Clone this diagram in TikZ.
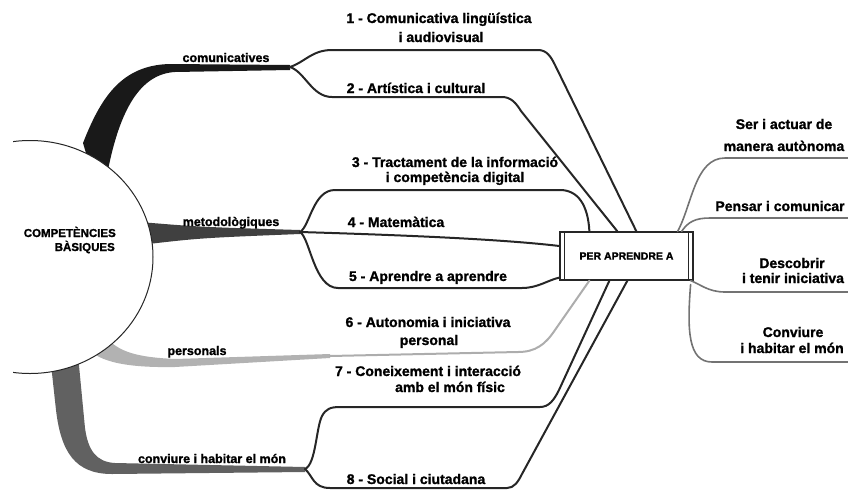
\documentclass[tikz,border=0pt]{standalone}
\usepackage{fontspec}
\setmainfont{Liberation Sans}[BoldFeatures={FakeBold=1.3}]
\usetikzlibrary{shapes.geometric}
\begin{document}
\begin{tikzpicture}[x=1pt,y=-1pt,
  num/.style={font=\fontsize{14}{16}\selectfont\bfseries, anchor=base, inner sep=0pt},
  lbl/.style={font=\fontsize{12.5}{14}\selectfont\bfseries, anchor=base, inner sep=0pt},
  corelbl/.style={font=\fontsize{11.5}{13}\selectfont\bfseries, anchor=base east, inner sep=0pt},
  conn/.style={draw=black!85, line width=2pt, line cap=round, line join=round},
  lightconn/.style={conn, draw=black!32},
  rconn/.style={draw=black!55, line width=1.6pt, line cap=round},
]
\useasboundingbox (0,0) rectangle (848,493);

% ---- tapered branches
\fill[black!90] (88,160) -- (83,143) .. controls (100,100) and (120,65) .. (170,64) -- (290,65) -- (290,70) -- (175,72) .. controls (140,74) and (120,110) .. (108,170) -- cycle;
\fill[black!75] (140,222) .. controls (200,227) .. (300,230) -- (300,234) .. controls (200,238) .. (140,245) -- cycle;
\fill[black!30] (100,330) .. controls (115,352) and (135,357) .. (175,359) -- (330,354) -- (330,358) -- (175,367) .. controls (120,368) and (95,360) .. (85,345) -- cycle;
\fill[black!62] (50,355) -- (56,410) .. controls (61,452) and (75,474) .. (112,474) -- (305,472) -- (305,467) -- (115,463) .. controls (96,462) and (88,450) .. (85,428) -- (78,355) -- cycle;

% ---- central ellipse
\begin{scope}
  \clip (13,0) rectangle (848,493);
  \node[ellipse, draw=black!85, fill=white, line width=1pt, minimum width=246pt, minimum height=233pt, inner sep=0pt] (core) at (30,257) {};
\end{scope}
\node[corelbl] (ct1) at (116,237) {COMPETÈNCIES};
\node[corelbl] (ct2) at (115,251) {BÀSIQUES};

% ---- branch labels
\node[lbl] (lcom) at (226,62) {comunicatives};
\node[lbl] (lmet) at (231,226) {metodològiques};
\node[lbl] (lper) at (197,355) {personals};
\node[lbl] (lconv) at (212,463) {conviure i habitar el món};

% ---- junctions
\coordinate (j1) at (290,67);
\coordinate (j2) at (300,232);
\coordinate (j3) at (330,356);
\coordinate (j4) at (305,469);

% ---- central box
\node[draw=black!85, line width=1.2pt, fill=white, minimum width=133pt, minimum height=48pt, inner sep=0pt,
      font=\fontsize{10.5}{12}\selectfont\bfseries] (box) at (626.5,256) {PER APRENDRE A};
\draw[black!85, line width=0.9pt] ([xshift=5pt]box.north west) -- ([xshift=5pt]box.south west);
\draw[black!85, line width=0.9pt] ([xshift=-5pt]box.north east) -- ([xshift=-5pt]box.south east);

\coordinate (bt1) at ([xshift=77pt]box.north west);
\coordinate (bt2) at ([xshift=58pt]box.north west);
\coordinate (bt3) at ([xshift=30pt]box.north west);
\coordinate (bl4) at ([yshift=10pt]box.west);
\coordinate (bl5) at ([yshift=3pt]box.south west);
\coordinate (bb6) at ([xshift=30pt]box.south west);
\coordinate (bb7) at ([xshift=50pt]box.south west);
\coordinate (bb8) at ([xshift=68pt]box.south west);
\coordinate (rt1) at ([xshift=-16pt]box.north east);
\coordinate (rt2) at ([xshift=-12pt]box.north east);
\coordinate (rb3) at ([xshift=-3pt]box.south east);
\coordinate (rb4) at ([xshift=-3pt,yshift=-4pt]box.south east);
\coordinate (re1) at (848,158);
\coordinate (re2) at (848,218);
\coordinate (re3) at (848,292);
\coordinate (re4) at (848,362);

% ---- connectors to the box
\draw[conn] (j1) .. controls (305,62) and (312,50) .. (332,50) -- (538,50) .. controls (547,50) and (551,57) .. (555,65) -- (bt1);
\draw[conn] (j1) .. controls (305,72) and (312,97) .. (332,97) -- (502,97) .. controls (511,97) and (516,103) .. (521,111) -- (bt2);
\draw[conn] (j2) .. controls (310,226) and (313,190) .. (335,190) -- (560,190) .. controls (578,190) and (588,205) .. (bt3);
\draw[conn] (j2) .. controls (400,235) and (500,239) .. (bl4);
\draw[conn] (j2) .. controls (310,238) and (314,288) .. (338,288) -- (522,288) .. controls (538,288) and (548,280) .. (bl5);
\draw[lightconn] (j3) -- (518,352) .. controls (535,352) and (545,345) .. (555,330) -- (bb6);
\draw[conn] (j4) .. controls (316,464) and (316,428) .. (322,416) .. controls (326,409) and (330,407) .. (340,407) -- (540,407) .. controls (549,407) and (554,400) .. (559,390) -- (bb7);
\draw[conn] (j4) .. controls (313,476) and (313,488) .. (330,488) -- (507,488) .. controls (514,488) and (518,482) .. (522,474) -- (bb8);

% ---- connectors from the box
\draw[rconn] (rt1) .. controls (692,205) and (695,158) .. (725,158) -- (re1);
\draw[rconn] (rt2) .. controls (688,222) and (695,218) .. (710,218) -- (re2);
\draw[rconn] (rb3) .. controls (700,284) and (708,292) .. (725,292) -- (re3);
\draw[rconn] (rb4) .. controls (687,330) and (688,362) .. (712,362) -- (re4);

% ---- numbered competences
\node[num] (n1a) at (439,23) {1 - Comunicativa lingüística};
\node[num] (n1b) at (441,42) {i audiovisual};
\node[num] (n2) at (416,93) {2 - Artística i cultural};
\node[num] (n3a) at (455,167) {3 - Tractament de la informació};
\node[num] (n3b) at (455,182) {i competència digital};
\node[num] (n4) at (396,227) {4 - Matemàtica};
\node[num] (n5) at (428,281) {5 - Aprendre a aprendre};
\node[num] (n6a) at (428,327) {6 - Autonomia i iniciativa};
\node[num] (n6b) at (429,345) {personal};
\node[num] (n7a) at (428,376) {7 - Coneixement i interacció};
\node[num] (n7b) at (450,392) {amb el món físic};
\node[num] (n8) at (416,484) {8 - Social i ciutadana};

% ---- right side
\node[num] (r1a) at (784,129) {Ser i actuar de};
\node[num] (r1b) at (784,151) {manera autònoma};
\node[num] (r2) at (780,211) {Pensar i comunicar};
\node[num] (r3a) at (792,268) {Descobrir};
\node[num] (r3b) at (793,283) {i tenir iniciativa};
\node[num] (r4a) at (793,337) {Conviure};
\node[num] (r4b) at (792,353) {i habitar el món};
\end{tikzpicture}
\end{document}
